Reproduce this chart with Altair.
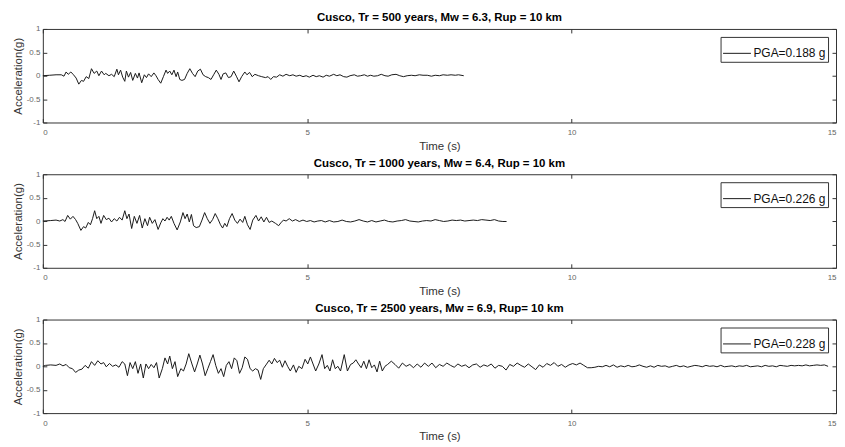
import altair as alt
import pandas as pd

# ---------------- data ----------------
t1 = [0.00, 0.13, 0.25, 0.35, 0.40, 0.44, 0.48, 0.53, 0.58, 0.63, 0.68, 0.73, 0.77, 0.82, 0.87,
      0.92, 0.97, 1.02, 1.06, 1.11, 1.16, 1.19, 1.25, 1.30, 1.35, 1.40, 1.43, 1.47, 1.51, 1.55,
      1.58, 1.62, 1.66, 1.70, 1.75, 1.79, 1.82, 1.87, 1.92, 1.96, 2.00, 2.05, 2.10, 2.14, 2.18,
      2.23, 2.28, 2.33, 2.36, 2.40, 2.44, 2.48, 2.52, 2.55, 2.59, 2.63, 2.68, 2.73, 2.78, 2.83,
      2.88, 2.93, 2.98, 3.03, 3.08, 3.13, 3.18, 3.23, 3.28, 3.33, 3.37, 3.41, 3.46, 3.51, 3.56,
      3.61, 3.66, 3.71, 3.76, 3.82, 3.86, 3.91, 3.96, 4.01, 4.08, 4.14, 4.21, 4.26, 4.31, 4.36,
      4.42, 4.48, 4.54, 4.60, 4.67, 4.73, 4.79, 4.86, 4.92, 4.98, 5.04, 5.11, 5.17, 5.23, 5.30,
      5.36, 5.42, 5.50, 5.56, 5.62, 5.69, 5.75, 5.81, 5.89, 5.95, 6.01, 6.08, 6.14, 6.20, 6.26,
      6.33, 6.40, 6.47, 6.53, 6.60, 6.68, 6.75, 6.82, 6.89, 6.97, 7.04, 7.12, 7.19, 7.27, 7.35,
      7.42, 7.50, 7.57, 7.65, 7.72, 7.80, 7.86, 7.96]
a1 = [0.00, 0.01, 0.02, 0.02, -0.01, 0.08, 0.03, 0.08, 0.02, -0.05, -0.18, -0.10, -0.12, -0.02, -0.06,
      0.15, 0.05, 0.10, 0.00, 0.10, 0.02, 0.05, 0.00, 0.03, -0.02, 0.14, 0.02, 0.12, -0.03, -0.12,
      0.10, -0.03, 0.07, -0.10, 0.05, -0.05, 0.06, -0.15, 0.02, -0.04, 0.04, -0.02, 0.06, 0.00, -0.08,
      -0.16, -0.02, 0.12, 0.05, 0.10, 0.02, 0.12, -0.02, 0.08, -0.08, -0.10, -0.08, 0.05, 0.15, 0.05,
      -0.02, 0.10, 0.14, 0.02, -0.02, -0.04, -0.08, 0.02, 0.12, 0.03, -0.08, 0.04, 0.06, -0.04, -0.02,
      0.10, -0.01, -0.13, -0.02, 0.08, 0.02, 0.07, -0.02, 0.03, 0.00, -0.02, -0.04, -0.02, -0.08, -0.02,
      -0.03, 0.02, -0.01, 0.03, 0.00, 0.02, -0.01, 0.01, -0.02, 0.00, -0.03, 0.01, -0.02, 0.00, -0.03,
      0.01, -0.01, 0.03, 0.00, 0.02, -0.02, -0.03, 0.00, 0.02, -0.01, 0.00, 0.02, -0.01, 0.01, -0.01,
      0.00, 0.03, 0.00, -0.01, 0.02, 0.03, 0.00, -0.02, 0.00, 0.01, 0.00, 0.02, 0.01, 0.01, -0.01,
      0.01, 0.00, 0.02, 0.01, 0.02, 0.01, 0.02, 0.00]

t2 = [0.00, 0.15, 0.25, 0.32, 0.38, 0.42, 0.47, 0.52, 0.57, 0.62, 0.66, 0.72, 0.77, 0.81, 0.86,
      0.90, 0.94, 0.98, 1.02, 1.06, 1.10, 1.15, 1.20, 1.25, 1.30, 1.35, 1.40, 1.45, 1.50, 1.55,
      1.59, 1.63, 1.68, 1.73, 1.78, 1.83, 1.88, 1.93, 1.98, 2.02, 2.07, 2.12, 2.18, 2.23, 2.27,
      2.31, 2.35, 2.39, 2.43, 2.48, 2.54, 2.60, 2.65, 2.69, 2.73, 2.77, 2.81, 2.85, 2.90, 2.96,
      3.01, 3.06, 3.11, 3.16, 3.21, 3.26, 3.31, 3.36, 3.40, 3.44, 3.48, 3.53, 3.58, 3.63, 3.68,
      3.73, 3.78, 3.82, 3.87, 3.92, 3.97, 4.03, 4.08, 4.13, 4.18, 4.23, 4.28, 4.33, 4.40, 4.46,
      4.50, 4.55, 4.60, 4.66, 4.72, 4.78, 4.85, 4.92, 4.99, 5.06, 5.13, 5.20, 5.27, 5.34, 5.42,
      5.50, 5.58, 5.66, 5.74, 5.82, 5.90, 5.98, 6.06, 6.14, 6.22, 6.30, 6.38, 6.46, 6.54, 6.62,
      6.70, 6.78, 6.86, 6.94, 7.02, 7.10, 7.18, 7.26, 7.34, 7.42, 7.50, 7.58, 7.66, 7.74, 7.82,
      7.90, 7.98, 8.06, 8.14, 8.22, 8.30, 8.38, 8.46, 8.54, 8.62, 8.70, 8.77]
a2 = [0.00, 0.01, 0.02, 0.00, 0.03, -0.01, 0.12, 0.04, 0.10, 0.03, -0.05, -0.20, -0.12, -0.15, -0.03,
      -0.08, 0.05, 0.22, 0.05, 0.10, -0.05, 0.12, 0.03, 0.06, -0.02, 0.05, 0.00, 0.08, 0.02, 0.22,
      0.05, 0.15, -0.16, 0.10, -0.05, 0.12, -0.15, 0.05, -0.10, 0.08, -0.05, 0.03, -0.18, -0.04, 0.05,
      0.00, 0.08, 0.02, 0.10, -0.05, -0.19, -0.02, 0.18, 0.05, 0.15, -0.02, 0.14, -0.10, -0.14, -0.12,
      0.02, 0.18, 0.05, -0.05, 0.03, 0.16, 0.05, -0.08, -0.15, -0.05, -0.12, 0.05, 0.16, 0.02, -0.05,
      0.04, -0.03, 0.10, -0.08, -0.18, 0.02, 0.12, 0.00, 0.09, -0.02, 0.08, -0.03, 0.00, -0.05, -0.10,
      -0.04, 0.02, 0.00, 0.05, 0.00, 0.03, -0.01, 0.02, -0.01, 0.01, -0.02, 0.00, 0.01, -0.02, 0.01,
      -0.02, -0.01, 0.02, -0.01, -0.02, 0.00, 0.03, 0.00, -0.02, 0.01, -0.02, 0.00, 0.02, -0.01, -0.02,
      0.00, 0.01, 0.03, 0.00, -0.01, -0.02, 0.00, 0.01, 0.00, 0.03, 0.01, -0.01, 0.00, 0.02, 0.01,
      0.02, 0.00, 0.01, 0.02, 0.01, 0.03, 0.02, 0.01, 0.03, 0.00, -0.01, -0.01]

t3 = [0.00, 0.05, 0.15, 0.25, 0.32, 0.38, 0.44, 0.50, 0.56, 0.62, 0.68, 0.74, 0.80, 0.86, 0.92,
      0.98, 1.04, 1.10, 1.15, 1.20, 1.26, 1.32, 1.38, 1.44, 1.50, 1.55, 1.60, 1.65, 1.70, 1.75,
      1.80, 1.85, 1.90, 1.95, 2.00, 2.05, 2.10, 2.15, 2.20, 2.26, 2.31, 2.36, 2.40, 2.45, 2.50,
      2.55, 2.61, 2.66, 2.71, 2.76, 2.82, 2.87, 2.92, 2.97, 3.02, 3.07, 3.12, 3.17, 3.22, 3.27,
      3.32, 3.37, 3.42, 3.47, 3.52, 3.57, 3.62, 3.67, 3.72, 3.77, 3.82, 3.87, 3.92, 3.97, 4.02,
      4.07, 4.12, 4.17, 4.22, 4.28, 4.33, 4.38, 4.43, 4.48, 4.53, 4.58, 4.63, 4.68, 4.74, 4.79,
      4.84, 4.90, 4.96, 5.01, 5.06, 5.11, 5.16, 5.22, 5.28, 5.33, 5.38, 5.43, 5.48, 5.53, 5.58,
      5.63, 5.70, 5.76, 5.82, 5.87, 5.92, 5.97, 6.02, 6.07, 6.12, 6.17, 6.22, 6.27, 6.32, 6.37,
      6.42, 6.47, 6.52, 6.59, 6.66, 6.73, 6.80, 6.87, 6.94, 7.01, 7.08, 7.15, 7.22, 7.29, 7.36,
      7.43, 7.50, 7.57, 7.64, 7.71, 7.78, 7.85, 7.92, 7.99, 8.06, 8.13, 8.20, 8.27, 8.34, 8.41,
      8.48, 8.55, 8.62, 8.69, 8.76, 8.83, 8.90, 8.97, 9.04, 9.11, 9.18, 9.25, 9.32, 9.39, 9.46,
      9.53, 9.60, 9.67, 9.74, 9.81, 9.88, 9.95, 10.02, 10.09, 10.16, 10.23, 10.30, 10.37, 10.44, 10.51,
      10.58, 10.65, 10.72, 10.79, 10.86, 10.93, 11.00, 11.07, 11.14, 11.21, 11.28, 11.35, 11.42, 11.49, 11.56,
      11.63, 11.70, 11.77, 11.84, 11.91, 11.98, 12.05, 12.12, 12.19, 12.26, 12.33, 12.40, 12.47, 12.54, 12.61,
      12.68, 12.75, 12.82, 12.89, 12.96, 13.03, 13.10, 13.17, 13.24, 13.31, 13.38, 13.45, 13.52, 13.59, 13.66,
      13.73, 13.80, 13.87, 13.94, 14.01, 14.08, 14.15, 14.22, 14.29, 14.36, 14.43, 14.50, 14.57, 14.64, 14.71,
      14.78, 14.85]
a3 = [0.00, 0.02, 0.03, 0.02, 0.05, 0.01, 0.04, -0.03, -0.05, -0.13, -0.08, -0.06, 0.02, -0.04, 0.10,
      0.02, 0.12, 0.05, 0.08, -0.01, 0.06, 0.00, 0.03, -0.02, 0.10, 0.05, -0.20, 0.08, -0.05, 0.10,
      -0.15, 0.05, -0.25, 0.05, -0.05, 0.04, -0.03, 0.08, -0.25, -0.05, 0.18, 0.05, 0.22, -0.05, 0.10,
      -0.22, -0.05, -0.10, 0.05, 0.27, 0.05, -0.12, 0.05, 0.24, 0.05, -0.20, -0.05, 0.10, 0.25, 0.02,
      -0.15, -0.05, -0.22, 0.02, 0.10, -0.05, 0.18, 0.12, -0.15, -0.03, 0.20, 0.15, -0.05, -0.10, -0.05,
      -0.08, -0.28, -0.05, 0.03, 0.13, 0.05, 0.17, 0.08, 0.13, -0.02, 0.12, 0.00, -0.10, 0.03, -0.13,
      0.00, -0.05, 0.15, 0.05, 0.20, 0.05, -0.10, 0.05, 0.25, -0.05, 0.02, -0.10, 0.14, -0.05, 0.00,
      -0.10, 0.25, -0.10, 0.04, 0.07, 0.14, 0.05, -0.03, 0.11, -0.05, 0.14, -0.03, 0.03, -0.12, 0.11,
      -0.10, 0.00, 0.04, 0.11, 0.04, -0.04, 0.07, 0.00, 0.04, -0.03, 0.05, -0.02, 0.07, 0.00, 0.07,
      -0.03, 0.04, 0.00, 0.07, 0.02, -0.02, 0.05, 0.00, 0.03, -0.03, 0.03, 0.05, -0.02, 0.03, 0.00,
      0.05, -0.04, 0.02, 0.00, -0.08, 0.04, 0.00, 0.07, 0.02, -0.02, 0.05, -0.01, -0.07, 0.03, -0.02,
      0.06, 0.02, 0.08, 0.00, 0.04, -0.02, 0.03, 0.06, 0.03, 0.07, 0.02, -0.03, -0.03, -0.02, 0.00,
      -0.01, 0.02, -0.01, 0.03, -0.02, 0.01, -0.01, 0.02, -0.01, 0.00, 0.03, 0.00, -0.02, 0.01, -0.02,
      0.02, 0.00, 0.01, -0.02, 0.00, 0.02, -0.01, 0.01, -0.02, 0.00, 0.02, 0.01, -0.01, 0.02, 0.00,
      0.01, -0.01, 0.02, -0.01, 0.00, 0.01, -0.01, 0.01, 0.00, 0.02, -0.01, 0.00, 0.01, -0.01, 0.02,
      0.00, 0.01, -0.01, 0.02, 0.01, 0.00, 0.02, 0.01, 0.02, 0.01, 0.03, 0.01, 0.02, 0.03, 0.02,
      0.03, 0.00]

titles = [
    "Cusco, Tr = 500 years, Mw = 6.3, Rup = 10 km",
    "Cusco, Tr = 1000 years, Mw = 6.4, Rup = 10 km",
    "Cusco, Tr = 2500 years, Mw = 6.9, Rup= 10 km",
]
pga_labels = ["PGA=0.188 g", "PGA=0.226 g", "PGA=0.228 g"]
x_ticks = [0, 5, 10, 15]
y_ticks = [-1, -0.5, 0, 0.5, 1]

FONT = "Liberation Sans"
W, H = 797, 94


def panel(t, a, title, pga):
    df = pd.DataFrame({"t": t, "a": a, "s": [pga] * len(t)})
    xs = alt.Scale(domain=[0, 15], nice=False, zero=False)
    ys = alt.Scale(domain=[-1, 1], nice=False)
    main = alt.Chart(df).mark_line(strokeWidth=1, interpolate="linear").encode(
        x=alt.X("t:Q", scale=xs, axis=alt.Axis(values=x_ticks, title="Time (s)", orient="bottom",
                                               labelExpr="'' + datum.value")),
        y=alt.Y("a:Q", scale=ys, axis=alt.Axis(values=y_ticks, title="Acceleration(g)", orient="left",
                                               labelExpr="'' + datum.value")),
        color=alt.Color("s:N", scale=alt.Scale(range=["#1a1a1a"]),
                        legend=alt.Legend(title=None, orient="top-right", offset=8,
                                          symbolType="stroke", symbolSize=784,
                                          symbolStrokeWidth=1, labelOffset=2,
                                          labelFont=FONT, labelFontSize=12, labelColor="#111",
                                          padding=2, strokeColor="#333", fillColor="white",
                                          cornerRadius=0)),
    )
    ghost = alt.Chart(df).mark_line(opacity=0).encode(
        x=alt.X("t:Q", scale=xs, axis=alt.Axis(values=x_ticks, orient="top", labels=False, title=None)),
        y=alt.Y("a:Q", scale=ys, axis=alt.Axis(values=y_ticks, orient="right", labels=False, title=None)),
    )
    return alt.layer(main, ghost).resolve_axis(x="independent", y="independent").properties(
        width=W, height=H,
        title=alt.TitleParams(title, font=FONT, fontSize=11.5, fontWeight="bold", color="#000",
                              offset=1, anchor="middle"),
    )


chart = alt.vconcat(
    panel(t1, a1, titles[0], pga_labels[0]),
    panel(t2, a2, titles[1], pga_labels[1]),
    panel(t3, a3, titles[2], pga_labels[2]),
    spacing=5,
).resolve_scale(color="independent").properties(
    padding={"left": 3, "top": 3, "right": 0, "bottom": 0},
    background="white",
).configure_view(
    stroke="#333", strokeWidth=1
).configure_axis(
    grid=False, domain=False, tickSize=4, offset=-4, tickColor="#333", tickWidth=1,
    labelFont=FONT, labelFontSize=8, labelColor="#666", labelPadding=6,
    titleFont=FONT, titleFontSize=11.5, titleFontWeight="normal", titleColor="#333", titlePadding=4,
).configure_axisLeft(
    labelPadding=3, titlePadding=3
)

chart.save("out.html", embed_options={"renderer": "svg", "actions": False})
